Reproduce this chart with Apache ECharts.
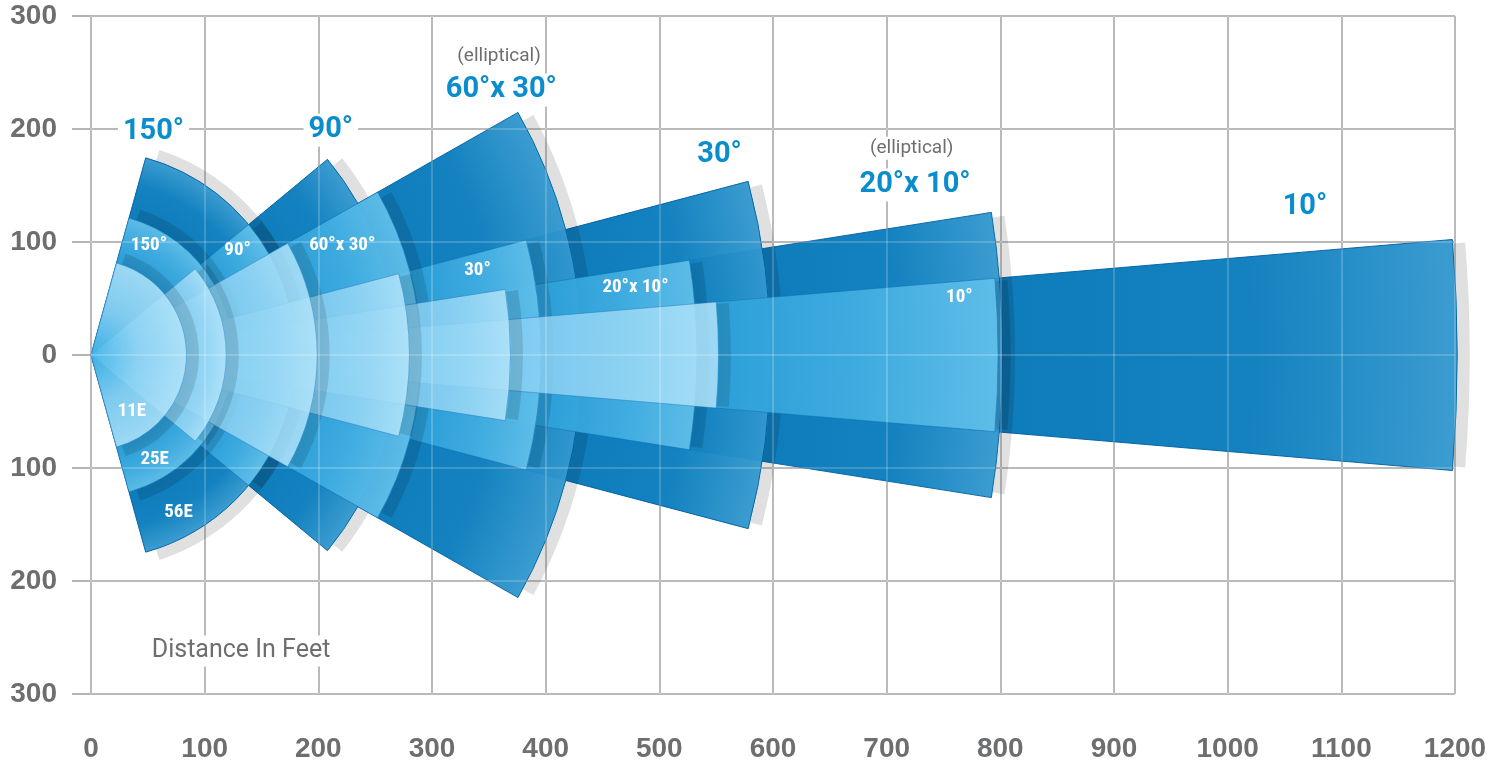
<!DOCTYPE html>
<html>
<head>
<meta charset="utf-8">
<script src="https://cdn.jsdelivr.net/npm/echarts@6/dist/echarts.min.js"></script>
<style>
html,body{margin:0;padding:0;background:#fff;}
#chart{width:1496px;height:769px;}
</style>
</head>
<body>
<div id="chart"></div>
<script>
// ---------------- DATA ----------------
// beams, ordered from the widest to the narrowest
const beamLabels = ['150°', '90°', '60°x 30°', '30°', '20°x 10°', '10°'];
const beamNotes  = ['', '', '(elliptical)', '', '(elliptical)', ''];
// half-angle of each beam as drawn (degrees)
const halfAngles = [74.5, 39.6, 29.6, 14.8, 9.0, 4.85];
// reach of each beam in feet, per lamp
const reach56E = [180, 270, 432, 598, 802, 1202];
const reach25E = [125, 180, 290, 396, 533, 798];
const reach11E = [84, 119, 199, 280, 369, 552];
const lampLabels = ['11E', '25E', '56E'];
// axis ticks
const xTickValues = [0, 100, 200, 300, 400, 500, 600, 700, 800, 900, 1000, 1100, 1200];
const yTickValues = [-300, -200, -100, 0, 100, 200, 300];
const axisTitle = 'Distance In Feet';

// ---------------- LAYOUT / STYLE ----------------
const beamLabelPos = [[55, 198], [211, 199], [361, 234.5], [553, 177], [725, 150.5], [1068, 131]];
const beamNotePos  = [null, null, [359, 264], null, [722, 183], null];
const innerLabelPos = [[51, 97], [129, 93], [221, 97], [340, 75], [479, 60], [764, 51]];
const lampLabelPos = [[36, -50], [56, -92], [77, -139]];
const axisTitlePos = [132, -262];

const BLUE = '#0a8dcd';
const GRAY = '#6d6e70';
const DEG = Math.PI / 180;

const layers = [
  { name: '56E', reach: reach56E, above: reach25E,
    colors: ['#0477b8', '#0a7dbd', '#3398ce'], stroke: 'rgba(0,95,160,0.95)', opacity: 0.96 },
  { name: '25E', reach: reach25E, above: reach11E,
    colors: ['#2a9fd9', '#43afe2', '#62c0ea'], stroke: 'rgba(15,115,180,0.6)', opacity: 0.93 },
  { name: '11E', reach: reach11E, above: null,
    colors: ['#86cff2', '#9ad8f5', '#b3e4f9'], stroke: 'rgba(40,125,190,0.6)', opacity: 0.84 }
];

function gradStops(rp, c) {
  if (rp <= 0) {
    return [{offset: 0, color: '#3fb3e8'}, {offset: 0.5, color: '#8ed3f3'}, {offset: 1, color: c[2]}];
  }
  const m = rp + 0.55 * (1 - rp);
  return [{offset: 0, color: c[0]}, {offset: rp, color: c[0]}, {offset: m, color: c[1]}, {offset: 1, color: c[2]}];
}

function sectorSeries(layer) {
  const order = [5, 4, 3, 2, 1, 0]; // longest reach first, wider beams on top
  return {
    type: 'custom',
    name: layer.name,
    coordinateSystem: 'cartesian2d',
    xAxisIndex: 0, yAxisIndex: 0,
    z: 2,
    silent: true,
    animation: false,
    data: order.map(i => ({ value: [layer.reach[i], halfAngles[i], i] })),
    renderItem: function (params, api) {
      const r = api.value(0);
      const haDeg = api.value(1);
      const i = api.value(2);
      const ha = haDeg * DEG;
      const o = api.coord([0, 0]);
      const R = api.size([r, 0])[0];
      const rpFeet = i > 0 ? layer.reach[i - 1] : (layer.above ? layer.above[0] : 0);
      const rp = rpFeet / r;
      const fill = new echarts.graphic.RadialGradient(o[0], o[1], R, gradStops(rp, layer.colors), true);
      const d = haDeg * 0.035 * DEG;
      return {
        type: 'group',
        children: [
          { type: 'sector',
            shape: { cx: o[0] + 1.5, cy: o[1], r0: R - 1, r: R + 11, startAngle: -(ha - d), endAngle: ha - d },
            style: { fill: 'rgba(0,0,0,0.12)' } },
          { type: 'sector',
            shape: { cx: o[0], cy: o[1], r0: 0, r: R, startAngle: -ha, endAngle: ha },
            style: { fill: fill, stroke: layer.stroke, lineWidth: 1, opacity: layer.opacity } }
        ]
      };
    }
  };
}

// annotations
const annData = [];
beamLabels.forEach((t, i) => {
  annData.push({ value: beamLabelPos[i], kind: 'beam', text: t });
  if (beamNotes[i]) annData.push({ value: beamNotePos[i], kind: 'note', text: beamNotes[i] });
  annData.push({ value: innerLabelPos[i], kind: 'inner', text: t });
});
lampLabels.forEach((t, i) => annData.push({ value: lampLabelPos[i], kind: 'inner', text: t }));
annData.push({ value: axisTitlePos, kind: 'title', text: axisTitle });

const textStyles = {
  beam:  { fill: BLUE, fontFamily: 'Roboto, sans-serif', fontWeight: 'bold', fontSize: 29, backgroundColor: '#fff', padding: [2, 5] },
  note:  { fill: GRAY, fontFamily: 'Roboto, sans-serif', fontWeight: 'normal', fontSize: 19, backgroundColor: '#fff', padding: [2, 4] },
  inner: { fill: '#fff', fontFamily: "'Liberation Sans Narrow', 'Roboto Condensed', Roboto, sans-serif", fontWeight: 'bold', fontSize: 19 },
  title: { fill: GRAY, fontFamily: 'Roboto, sans-serif', fontWeight: 'normal', fontSize: 25, backgroundColor: '#fff', padding: [3, 6] }
};

const labelSeries = {
  type: 'custom',
  coordinateSystem: 'cartesian2d',
  xAxisIndex: 0, yAxisIndex: 0,
  z: 6,
  silent: true,
  animation: false,
  data: annData,
  renderItem: function (params, api) {
    const item = annData[params.dataIndex];
    const p = api.coord([api.value(0), api.value(1)]);
    const st = Object.assign({ text: item.text, align: 'center', verticalAlign: 'middle' }, textStyles[item.kind]);
    return { type: 'text', x: p[0], y: p[1], style: st };
  }
};

const axisFont = { color: GRAY, fontFamily: "'Liberation Sans', Arial, sans-serif", fontWeight: 'bold', fontSize: 28 };
const gridGray = '#a9a9a9';

const option = {
  animation: false,
  backgroundColor: '#ffffff',
  grid: { left: 91, right: 41, top: 16, bottom: 75, containLabel: false, outerBoundsMode: 'none' },
  xAxis: [
    { type: 'value', min: xTickValues[0], max: xTickValues[xTickValues.length - 1], interval: 100,
      axisLine: { show: false },
      axisTick: { show: true, length: 17, lineStyle: { color: '#b4b4b4', width: 2 } },
      splitLine: { show: true, lineStyle: { color: gridGray, width: 2 } },
      axisLabel: Object.assign({ margin: 41, formatter: v => String(v) }, axisFont) },
    { type: 'value', min: xTickValues[0], max: xTickValues[xTickValues.length - 1], interval: 100,
      position: 'bottom', z: 3,
      axisLine: { show: false }, axisTick: { show: false }, axisLabel: { show: false },
      splitLine: { show: true, lineStyle: { color: 'rgba(255,255,255,0.2)', width: 2 } } }
  ],
  yAxis: [
    { type: 'value', min: yTickValues[0], max: yTickValues[yTickValues.length - 1], interval: 100,
      axisLine: { show: false },
      axisTick: { show: true, length: 19, lineStyle: { color: '#b4b4b4', width: 2 } },
      splitLine: { show: true, lineStyle: { color: gridGray, width: 2 } },
      axisLabel: Object.assign({ margin: 34, formatter: v => String(Math.abs(v)) }, axisFont) },
    { type: 'value', min: yTickValues[0], max: yTickValues[yTickValues.length - 1], interval: 100,
      position: 'left', z: 3,
      axisLine: { show: false }, axisTick: { show: false }, axisLabel: { show: false },
      splitLine: { show: true, lineStyle: { color: 'rgba(255,255,255,0.2)', width: 2 } } }
  ],
  series: layers.map(sectorSeries).concat([labelSeries])
};

const chart = echarts.init(document.getElementById('chart'), null, { renderer: 'canvas' });
chart.setOption(option);
</script>
</body>
</html>
